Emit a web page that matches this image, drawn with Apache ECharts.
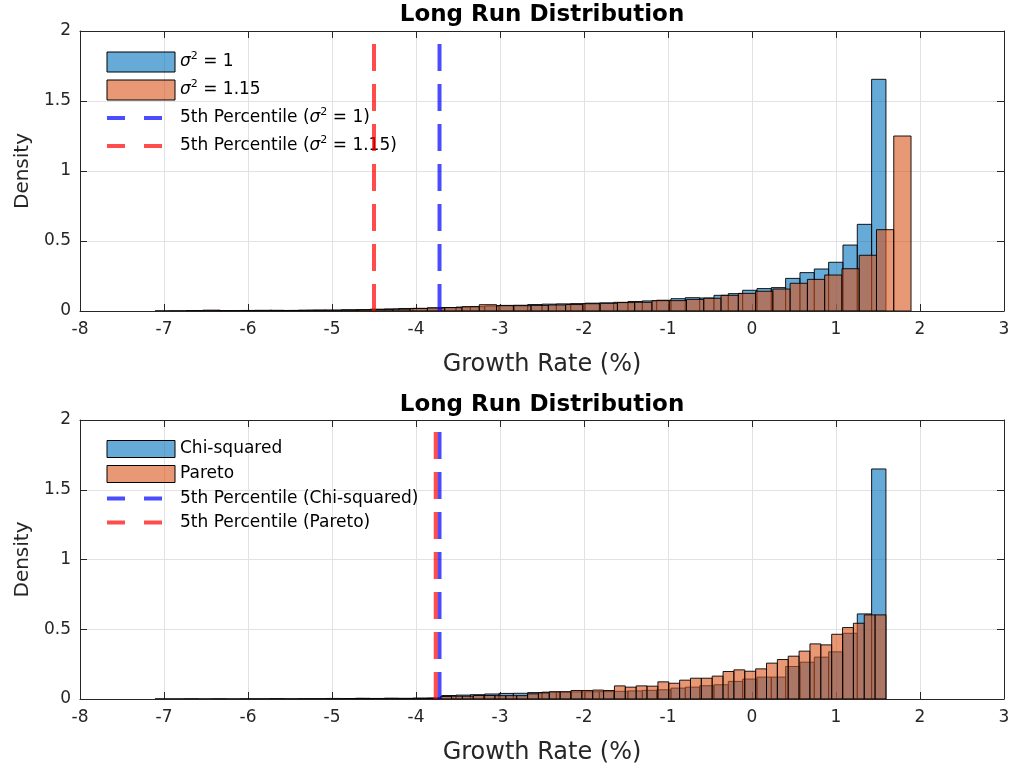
<!DOCTYPE html>
<html><head><meta charset="utf-8">
<script src="https://cdn.jsdelivr.net/npm/echarts@6/dist/echarts.min.js"></script>
<style>html,body{margin:0;padding:0;background:#fff}#c{width:1013px;height:772px}</style>
</head><body><div id="c"></div>
<script>
// ---------- data ----------
const xTickValues = [-8, -7, -6, -5, -4, -3, -2, -1, 0, 1, 2, 3];
const yTickValues = [0, 0.5, 1, 1.5, 2];
const titleText = 'Long Run Distribution';
const xLabel = 'Growth Rate (%)';
const yLabel = 'Density';

// top panel: sigma^2 = 1 (blue) and sigma^2 = 1.15 (orange)
const topBlueName = 'σ² = 1';
const topBlueStart = -7.106, topBlueWidth = 0.1706;
const topBlueDensity = [
  0.001, 0.002, 0.001, 0.002, 0.003, 0.002, 0.004, 0.003, 0.005, 0.004,
  0.006, 0.007, 0.006, 0.009, 0.010, 0.013, 0.015, 0.018, 0.019, 0.022,
  0.025, 0.028, 0.031, 0.036, 0.040, 0.041, 0.046, 0.049, 0.051, 0.053,
  0.056, 0.058, 0.062, 0.068, 0.072, 0.077, 0.088, 0.095, 0.093, 0.112,
  0.124, 0.148, 0.160, 0.167, 0.233, 0.274, 0.300, 0.348, 0.471, 0.619,
  1.655
];
const topOrangeName = 'σ² = 1.15';
const topOrangeStart = -6.742, topOrangeWidth = 0.2056;
const topOrangeDensity = [
  0.002, 0.006, 0.002, 0.002, 0.005, 0.003, 0.004, 0.005, 0.006, 0.006,
  0.008, 0.010, 0.013, 0.018, 0.022, 0.024, 0.031, 0.045, 0.038, 0.038,
  0.040, 0.043, 0.046, 0.052, 0.055, 0.060, 0.062, 0.074, 0.074, 0.083,
  0.091, 0.112, 0.126, 0.141, 0.157, 0.198, 0.226, 0.257, 0.302, 0.398,
  0.581, 1.250
];
const topP5BlueName = '5th Percentile (σ² = 1)';
const topP5Blue = -3.72;
const topP5RedName = '5th Percentile (σ² = 1.15)';
const topP5Red = -4.50;

// bottom panel: Chi-squared (blue) and Pareto (orange)
const botBlueName = 'Chi-squared';
const botBlueStart = -7.106, botBlueWidth = 0.1706;
const botBlueDensity = [
  0.001, 0.001, 0.002, 0.001, 0.002, 0.001, 0.002, 0.002, 0.003, 0.002,
  0.003, 0.003, 0.004, 0.003, 0.005, 0.004, 0.006, 0.005, 0.007, 0.008,
  0.025, 0.028, 0.031, 0.036, 0.040, 0.041, 0.046, 0.049, 0.050, 0.051,
  0.052, 0.053, 0.055, 0.058, 0.062, 0.066, 0.078, 0.085, 0.095, 0.102,
  0.126, 0.143, 0.157, 0.157, 0.233, 0.264, 0.300, 0.338, 0.471, 0.610,
  1.649
];
const botOrangeName = 'Pareto';
const botOrangeStart = -4.87, botOrangeWidth = 0.1293;
const botOrangeDensity = [
  0.002, 0.004, 0.003, 0.002, 0.001, 0.002, 0.001, 0.003, 0.004, 0.018,
  0.020, 0.020, 0.025, 0.025, 0.024, 0.024, 0.024, 0.037, 0.044, 0.052,
  0.052, 0.061, 0.061, 0.064, 0.061, 0.094, 0.085, 0.094, 0.092, 0.123,
  0.113, 0.135, 0.149, 0.149, 0.164, 0.197, 0.209, 0.199, 0.216, 0.257,
  0.283, 0.307, 0.343, 0.395, 0.388, 0.464, 0.512, 0.543, 0.603, 0.603
];
const botP5BlueName = '5th Percentile (Chi-squared)';
const botP5Blue = -3.72;
const botP5RedName = '5th Percentile (Pareto)';
const botP5Red = -3.765;

// ---------- styles ----------
const FONT = 'DejaVu Sans';
const AX = '#262626';
const BLUE_FILL = 'rgba(0,114,189,0.6)';
const ORANGE_FILL = 'rgba(217,83,25,0.6)';
const EDGE = 'rgba(0,0,0,0.9)';
const BLUE_LINE = 'rgba(0,0,255,0.7)';
const RED_LINE = 'rgba(255,0,0,0.7)';
const NOSYM = { color: 'rgba(0,0,0,0)', borderColor: 'rgba(0,0,0,0)', borderWidth: 0, opacity: 0 };

function histData(start, width, dens) {
  return dens.map((d, i) => [start + i * width, start + (i + 1) * width, d]);
}
function histSeries(name, start, width, dens, axisIdx, fill) {
  return {
    type: 'custom', name, xAxisIndex: axisIdx, yAxisIndex: axisIdx,
    data: histData(start, width, dens), encode: { x: [0, 1], y: 2 },
    itemStyle: { color: fill, borderColor: '#000', borderWidth: 1 },
    clip: true, z: 2,
    renderItem(params, api) {
      const p0 = api.coord([api.value(0), api.value(2)]);
      const p1 = api.coord([api.value(1), 0]);
      return {
        type: 'rect',
        shape: { x: p0[0], y: p0[1], width: p1[0] - p0[0], height: p1[1] - p0[1] },
        style: { fill, stroke: EDGE, lineWidth: 1 }
      };
    }
  };
}
function vline(name, x, axisIdx, color) {
  return {
    type: 'line', name, xAxisIndex: axisIdx, yAxisIndex: axisIdx,
    data: [[x, yTickValues[0]], [x, yTickValues[yTickValues.length - 1]]],
    symbol: 'none', z: 5, silent: true,
    itemStyle: { color },
    lineStyle: { color, width: 4, type: [27, 13] }
  };
}
function xAxes(grid) {
  const base = {
    gridIndex: grid, type: 'value', min: xTickValues[0], max: xTickValues[xTickValues.length - 1], interval: 1,
    axisLine: { show: true, onZero: false, lineStyle: { color: AX, width: 1 } },
    axisTick: { show: true, inside: true, length: 7, lineStyle: { color: AX } }
  };
  return [
    Object.assign({}, base, {
      position: 'bottom',
      axisLabel: { color: AX, fontSize: 17, fontFamily: FONT, margin: 10 },
      splitLine: { show: true, lineStyle: { color: '#e2e2e2', width: 1 } },
      name: xLabel, nameLocation: 'middle', nameGap: 42,
      nameTextStyle: { color: AX, fontSize: 24, fontFamily: FONT }
    }),
    Object.assign({}, base, { position: 'top', axisLabel: { show: false }, splitLine: { show: false } })
  ];
}
function yAxes(grid) {
  const base = {
    gridIndex: grid, type: 'value', min: yTickValues[0], max: yTickValues[yTickValues.length - 1], interval: 0.5,
    axisLine: { show: true, onZero: false, lineStyle: { color: AX, width: 1 } },
    axisTick: { show: true, inside: true, length: 7, lineStyle: { color: AX } }
  };
  return [
    Object.assign({}, base, {
      position: 'left',
      axisLabel: { color: AX, fontSize: 17, fontFamily: FONT, margin: 9 },
      splitLine: { show: true, lineStyle: { color: '#e2e2e2', width: 1 } },
      name: yLabel, nameLocation: 'middle', nameGap: 46, nameRotate: 90,
      nameTextStyle: { color: AX, fontSize: 20, fontFamily: FONT }
    }),
    Object.assign({}, base, { position: 'right', axisLabel: { show: false }, splitLine: { show: false } })
  ];
}
const richFmt = n => n.replace('σ²', '{i|σ}{s|2}');
function legend(top, names, itemHeight, itemGap, lineHeight) {
  return {
    top, left: 105, orient: 'vertical', padding: 0, itemWidth: 68, itemHeight, itemGap,
    selectedMode: false,
    formatter: richFmt,
    textStyle: {
      color: '#000', fontSize: 17, fontFamily: FONT, lineHeight,
      rich: {
        i: { fontStyle: 'italic', fontSize: 17, fontFamily: FONT, color: '#000', lineHeight },
        s: { fontSize: 11, fontFamily: FONT, color: '#000', verticalAlign: 'top', lineHeight: 11 }
      }
    },
    data: [
      { name: names[0], icon: 'rect', itemStyle: { color: BLUE_FILL, borderColor: '#000', borderWidth: 1 } },
      { name: names[1], icon: 'rect', itemStyle: { color: ORANGE_FILL, borderColor: '#000', borderWidth: 1 } },
      { name: names[2], itemStyle: NOSYM, lineStyle: { color: BLUE_LINE, width: 4, type: [18, 19] } },
      { name: names[3], itemStyle: NOSYM, lineStyle: { color: RED_LINE, width: 4, type: [18, 19] } }
    ]
  };
}

const chart = echarts.init(document.getElementById('c'), null, { renderer: 'canvas' });
chart.setOption({
  animation: false,
  backgroundColor: '#fff',
  title: [
    { text: titleText, left: 542, top: 4, padding: 0, textAlign: 'center',
      textStyle: { fontSize: 23, fontWeight: 'bold', color: '#000', fontFamily: FONT } },
    { text: titleText, left: 542, top: 394, padding: 0, textAlign: 'center',
      textStyle: { fontSize: 23, fontWeight: 'bold', color: '#000', fontFamily: FONT } }
  ],
  grid: [
    { left: 80, right: 9, top: 31, height: 280 },
    { left: 80, right: 9, top: 420, height: 279 }
  ],
  legend: [
    legend(51, [topBlueName, topOrangeName, topP5BlueName, topP5RedName], 20, 6, 22),
    legend(440, [botBlueName, botOrangeName, botP5BlueName, botP5RedName], 17, 7, 17)
  ],
  xAxis: [...xAxes(0), ...xAxes(1)],
  yAxis: [...yAxes(0), ...yAxes(1)],
  series: [
    histSeries(topBlueName, topBlueStart, topBlueWidth, topBlueDensity, 0, BLUE_FILL),
    histSeries(topOrangeName, topOrangeStart, topOrangeWidth, topOrangeDensity, 0, ORANGE_FILL),
    vline(topP5BlueName, topP5Blue, 0, BLUE_LINE),
    vline(topP5RedName, topP5Red, 0, RED_LINE),
    histSeries(botBlueName, botBlueStart, botBlueWidth, botBlueDensity, 2, BLUE_FILL),
    histSeries(botOrangeName, botOrangeStart, botOrangeWidth, botOrangeDensity, 2, ORANGE_FILL),
    vline(botP5BlueName, botP5Blue, 2, BLUE_LINE),
    vline(botP5RedName, botP5Red, 2, RED_LINE)
  ]
});
</script></body></html>
